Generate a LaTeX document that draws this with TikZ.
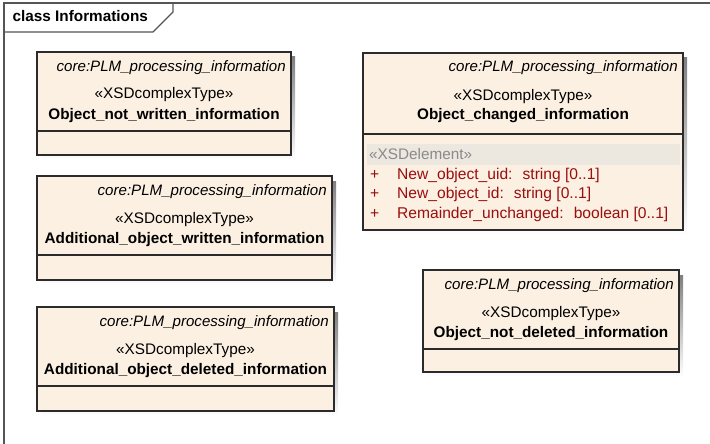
\documentclass[tikz,border=0pt]{standalone}
\usepackage{fontspec}
\setmainfont{Liberation Sans}
\usetikzlibrary{positioning}
\definecolor{boxfill}{HTML}{FBF0E2}
\definecolor{boxline}{HTML}{2B2B2B}
\definecolor{shade}{HTML}{C2C2C2}
\definecolor{frameline}{HTML}{555555}
\definecolor{bandfill}{HTML}{ECE7DF}
\definecolor{attrred}{HTML}{9A0E0E}
\definecolor{stgray}{HTML}{8A8A8A}
\newcommand{\umlfont}{\fontsize{15.3}{18}\selectfont}
\newcommand{\corens}{core:PLM\_processing\_information}

\begin{document}
\begin{tikzpicture}[x=1pt,y=-1pt,
  classbox/.style={draw=boxline,line width=1.3pt},
  coretext/.style={inner sep=0pt,font=\fontsize{15.1}{18}\selectfont\itshape},
  stereo/.style={inner sep=0pt,font=\umlfont},
  classname/.style={inner sep=0pt,font=\umlfont\bfseries},
  attr/.style={inner sep=0pt,font=\fontsize{15.6}{18}\selectfont,text=attrred,anchor=base west}]
  \useasboundingbox (0,0) rectangle (710,444);
  % diagram frame and its tab
  \draw[frameline,line width=1.3pt] (4,446) -- (4,3) -- (712,3);
  \draw[frameline,line width=1.1pt] (173,3) -- (173,12) -- (153,32) -- (4,32);
  \node[inner sep=0pt,anchor=base west,font=\umlfont\bfseries] (frametitle) at (12.5,22) {class Informations};
  % classes with no attributes
  \foreach \nm/\xa/\ya/\xb/\yb/\title in {
      notwritten/37/52/291/155/{Object\_not\_written\_information},
      addwritten/37/176/332/280/{Additional\_object\_written\_information},
      adddeleted/37/307/334/411/{Additional\_object\_deleted\_information},
      notdeleted/423/270/679/372/{Object\_not\_deleted\_information}} {
    \fill[shade] (\xa+4,\ya+5) rectangle (\xb+4,\yb+5);
    \fill[boxfill] (\xa,\ya) rectangle (\xb,\yb);
    \draw[classbox] (\xa,\ya) rectangle (\xb,\yb);
    \draw[classbox] (\xa,\ya+79) -- (\xb,\ya+79);
    \node[coretext,anchor=base east] (\nm-core) at (\xb-5,\ya+19) {\corens};
    \node[stereo,anchor=base] (\nm-st) at ({(\xa+\xb)/2},\ya+47) {«XSDcomplexType»};
    \node[classname,anchor=base] (\nm-name) at ({(\xa+\xb)/2},\ya+67) {\title};
  }
  % class with attributes
  \fill[shade] (367,58) rectangle (687,235);
  \fill[boxfill] (363,53) rectangle (683,230);
  \draw[classbox] (363,53) rectangle (683,230);
  \draw[classbox] (363,134) -- (683,134);
  \node[coretext,anchor=base east] (changed-core) at (678,72) {\corens};
  \node[stereo,anchor=base] (changed-st) at (523,100) {«XSDcomplexType»};
  \node[classname,anchor=base] (changed-name) at (523,120) {Object\_changed\_information};
  \fill[bandfill] (367,144) rectangle (680,165);
  \node[inner sep=0pt,font=\umlfont,text=stgray,anchor=base west] (changed-elem) at (369,159) {«XSDelement»};
  \foreach \i/\yy/\txt in {1/179/{New\_object\_uid:~ string [0..1]},
                          2/198/{New\_object\_id:~ string [0..1]},
                          3/218/{Remainder\_unchanged:~ boolean [0..1]}} {
    \node[attr] (changed-plus\i) at (370,\yy) {+};
    \node[attr] (changed-attr\i) at (397,\yy) {\txt};
  }
\end{tikzpicture}
\end{document}
